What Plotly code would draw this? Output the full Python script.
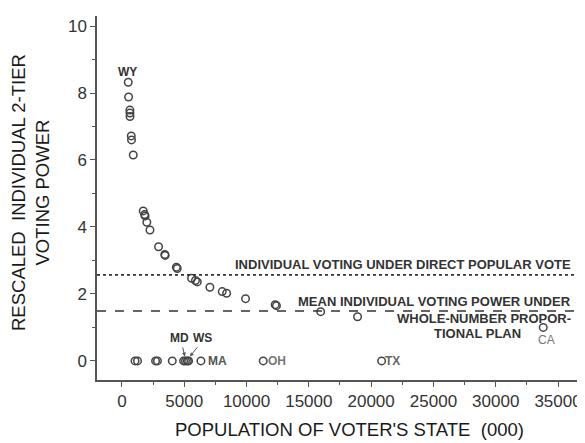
import plotly.graph_objects as go

# Curve states: population (000) and rescaled voting power
curve_pop = [506, 535, 640, 645, 650, 750, 770, 910, 1710, 1820, 1860, 2000, 2250,
             2940, 3440, 3470, 4370, 4440, 5590, 5900, 6050, 7060, 8050, 8400, 9920,
             12300, 12400, 15950, 18910, 33810]
curve_power = [8.32, 7.88, 7.49, 7.40, 7.30, 6.72, 6.60, 6.15, 4.48, 4.37, 4.33, 4.14, 3.91,
               3.41, 3.18, 3.15, 2.80, 2.76, 2.47, 2.40, 2.36, 2.20, 2.07, 2.02, 1.86,
               1.68, 1.65, 1.47, 1.32, 1.00]
# Zero-power states
zero_pop = [1050, 1250, 2700, 2850, 4040, 4950, 5100, 5250, 5350, 6340, 11340, 20840]
zero_power = [0] * len(zero_pop)

direct_popular = 2.57
mean_proportional = 1.49

x_ticks = [0, 5000, 10000, 15000, 20000, 25000, 30000, 35000]
y_ticks = [0, 2, 4, 6, 8, 10]

FONT = "Liberation Sans, Arial, sans-serif"
TXT = "#333333"
PT = "#444444"

fig = go.Figure()
marker = dict(symbol="circle-open", size=7.5, color=PT, line=dict(width=1.5, color=PT))
fig.add_trace(go.Scatter(x=curve_pop, y=curve_power, mode="markers", marker=marker,
                         showlegend=False, hoverinfo="skip"))
fig.add_trace(go.Scatter(x=zero_pop, y=zero_power, mode="markers", marker=marker,
                         showlegend=False, hoverinfo="skip"))

fig.add_hline(y=direct_popular, line=dict(color="#333", width=1.6, dash="dot"))
fig.add_hline(y=mean_proportional, line=dict(color="#333", width=1.4, dash="dash"))

# right frame line
fig.add_shape(type="line", xref="paper", yref="paper", x0=1, x1=1, y0=0, y1=1,
              line=dict(color="#666", width=1.5))

def label(x, y, text, xanchor="center", yanchor="middle", size=13, color=TXT,
          xref="x", yref="y", angle=0):
    fig.add_annotation(x=x, y=y, text=text, showarrow=False, xanchor=xanchor, yanchor=yanchor,
                       xref=xref, yref=yref, textangle=angle,
                       font=dict(family=FONT, size=size, color=color))

label(36200, direct_popular + 0.3, "<b>INDIVIDUAL VOTING UNDER DIRECT POPULAR VOTE</b>", xanchor="right")
label(36200, 1.76, "<b>MEAN INDIVIDUAL VOTING POWER UNDER</b>", xanchor="right")
label(36200, 1.26, "<b>WHOLE-NUMBER PROPOR-</b>", xanchor="right")
label(32200, 0.82, "<b>TIONAL PLAN</b>", xanchor="right")
label(34100, 0.62, "CA", size=12, color="#777")
label(480, 8.62, "<b>WY</b>", size=12)
label(7650, 0, "<b>MA</b>", size=12, color="#555")
label(12450, 0, "<b>OH</b>", size=12, color="#777")
label(21750, 0, "<b>TX</b>", size=12, color="#666")
label(4650, 0.69, "<b>MD</b>", size=12)
label(6500, 0.69, "<b>WS</b>", size=12)

fig.add_annotation(x=5050, y=0.13, ax=4850, ay=0.45, xref="x", yref="y", axref="x", ayref="y",
                   text="", showarrow=True, arrowhead=2, arrowsize=0.8, arrowwidth=1, arrowcolor="#555")
fig.add_annotation(x=5450, y=0.13, ax=6150, ay=0.45, xref="x", yref="y", axref="x", ayref="y",
                   text="", showarrow=True, arrowhead=2, arrowsize=0.8, arrowwidth=1, arrowcolor="#555")

# axis titles
label(0.524, -0.135, "POPULATION OF VOTER'S STATE  (000)", size=18.5,
      xref="paper", yref="paper", color="#1a1a1a")
label(-0.137, 0.514, "RESCALED  INDIVIDUAL 2-TIER<br>VOTING POWER", size=18.5,
      xref="paper", yref="paper", angle=-90, color="#1a1a1a")

fig.update_layout(
    width=585, height=443,
    margin=dict(l=89, r=15, t=8, b=71),
    paper_bgcolor="white", plot_bgcolor="white",
    font=dict(family=FONT, color=TXT),
)
fig.update_xaxes(
    range=[-2000, 36600], tickvals=x_ticks, ticktext=[str(v) for v in x_ticks],
    automargin=False,
    showgrid=False, zeroline=False, showline=True, linecolor="#555", linewidth=1.5,
    ticks="outside", ticklen=5, tickcolor="#555", tickwidth=1.2,
    tickfont=dict(size=17, family=FONT, color=TXT),
    minor=dict(dtick=2500, tick0=0, ticks="outside", ticklen=3, tickcolor="#555"),
)
fig.update_yaxes(
    range=[-0.57, 10.3], tickvals=y_ticks, ticktext=[str(v) for v in y_ticks],
    automargin=False,
    showgrid=False, zeroline=False, showline=True, linecolor="#555", linewidth=1.5,
    ticks="outside", ticklen=5, tickcolor="#555", tickwidth=1.2,
    tickfont=dict(size=17, family=FONT, color=TXT),
    minor=dict(dtick=1, tick0=0, ticks="outside", ticklen=3, tickcolor="#555"),
)

fig.write_html("out.html")
